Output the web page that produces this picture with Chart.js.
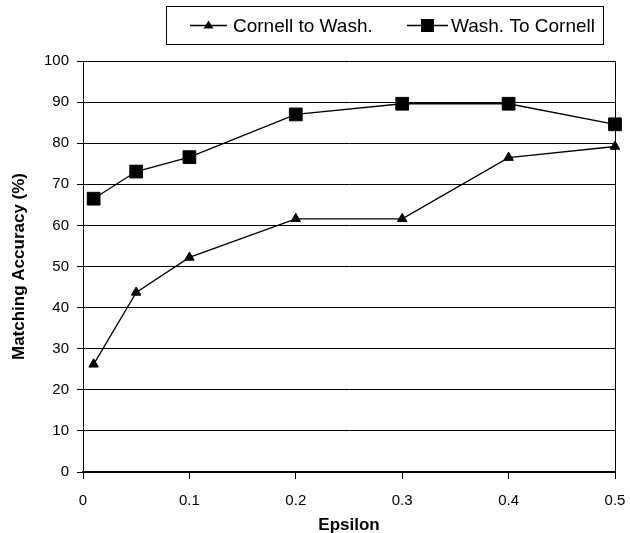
<!DOCTYPE html>
<html>
<head>
<meta charset="utf-8">
<script src="https://cdn.jsdelivr.net/npm/chart.js@4.4.0/dist/chart.umd.min.js"></script>
<style>
  html, body { margin: 0; padding: 0; background: #fff; }
  canvas { display: block; }
</style>
</head>
<body>
<canvas id="accuracy-chart" width="630" height="533"></canvas>
<script>
// values
var epsilon = [0.01, 0.05, 0.1, 0.2, 0.3, 0.4, 0.5];
var cornellToWash = [26.2, 43.7, 52.2, 61.6, 61.6, 76.5, 79.2];
var washToCornell = [66.5, 73.1, 76.6, 87.0, 89.6, 89.6, 84.6];
var xTickLabels = ['0', '0.1', '0.2', '0.3', '0.4', '0.5'];
var seriesNames = ['Cornell to Wash.', 'Wash. To Cornell'];

var FONT = "'Liberation Sans', Arial, sans-serif";

function toPoints(xs, ys) {
    return xs.map(function (x, i) { return { x: x, y: ys[i] }; });
}

// legend box with line + marker samples, like the original
var boxLegend = {
    id: 'boxLegend',
    afterDraw: function (chart) {
        var ctx = chart.ctx;
        ctx.save();
        ctx.fillStyle = '#fff';
        ctx.fillRect(166, 6, 437, 38);
        ctx.strokeStyle = '#000';
        ctx.lineWidth = 1;
        ctx.strokeRect(166.5, 6.5, 437, 38);

        var entries = [
            { x0: 190, x1: 227, style: 'triangle', tx: 233 },
            { x0: 407, x1: 448, style: 'rect', tx: 451 }
        ];
        var y = 25.5;
        entries.forEach(function (e, i) {
            ctx.strokeStyle = '#000';
            ctx.lineWidth = 1.3;
            ctx.beginPath();
            ctx.moveTo(e.x0, y);
            ctx.lineTo(e.x1, y);
            ctx.stroke();
            var cx = (e.x0 + e.x1) / 2;
            ctx.fillStyle = '#000';
            ctx.beginPath();
            if (e.style === 'triangle') {
                ctx.moveTo(cx, y - 5);
                ctx.lineTo(cx + 5, y + 3);
                ctx.lineTo(cx - 5, y + 3);
                ctx.closePath();
            } else {
                ctx.rect(cx - 6.5, y - 6.5, 13, 13);
            }
            ctx.fill();
            ctx.font = '19px ' + FONT;
            ctx.textBaseline = 'middle';
            ctx.textAlign = 'left';
            ctx.fillText(chart.data.datasets[i].label, e.tx, y + 1);
        });

        // right edge of the plot area
        var a = chart.chartArea;
        ctx.strokeStyle = '#000';
        ctx.lineWidth = 1;
        ctx.beginPath();
        ctx.moveTo(Math.round(a.right) + 0.5, a.top);
        ctx.lineTo(Math.round(a.right) + 0.5, a.bottom);
        ctx.stroke();
        ctx.restore();
    }
};

var ctx = document.getElementById('accuracy-chart').getContext('2d');
var chart = new Chart(ctx, {
    type: 'line',
    data: {
        datasets: [{
            label: seriesNames[0],
            data: toPoints(epsilon, cornellToWash),
            borderColor: '#000',
            backgroundColor: '#000',
            borderWidth: 1.3,
            pointStyle: 'triangle',
            pointRadius: 5.5,
            pointBorderWidth: 1,
            pointBackgroundColor: '#000',
            pointBorderColor: '#000',
            tension: 0,
            clip: false
        }, {
            label: seriesNames[1],
            data: toPoints(epsilon, washToCornell),
            borderColor: '#000',
            backgroundColor: '#000',
            borderWidth: 1.3,
            pointStyle: 'rect',
            pointRadius: 9,
            pointBorderWidth: 1,
            pointBackgroundColor: '#000',
            pointBorderColor: '#000',
            tension: 0,
            clip: false
        }]
    },
    options: {
        responsive: false,
        animation: false,
        events: [],
        layout: { padding: { left: 0, right: 15, top: 61, bottom: 0 } },
        plugins: {
            legend: { display: false },
            tooltip: { enabled: false }
        },
        scales: {
            x: {
                type: 'linear',
                min: 0,
                max: 0.5,
                afterFit: function (s) {
                    s.height = 61;
                    s.paddingLeft = 0;
                    s.paddingRight = 0;
                },
                afterBuildTicks: function (s) {
                    s.ticks = xTickLabels.map(function (t) { return { value: parseFloat(t) }; });
                },
                ticks: {
                    color: '#000',
                    font: { family: FONT, size: 15 },
                    padding: 13,
                    maxRotation: 0,
                    callback: function (value, index) { return xTickLabels[index]; }
                },
                grid: {
                    drawOnChartArea: false,
                    drawTicks: true,
                    tickLength: 7,
                    color: '#000',
                    lineWidth: 1
                },
                border: { display: true, color: '#000', width: 2 },
                title: {
                    display: true,
                    text: 'Epsilon',
                    color: '#000',
                    font: { family: FONT, size: 17, weight: 'bold', lineHeight: 1 },
                    padding: { top: 0, bottom: -1 }
                }
            },
            y: {
                min: 0,
                max: 100,
                afterFit: function (s) {
                    s.width = 83;
                    s.paddingTop = 0;
                    s.paddingBottom = 0;
                },
                ticks: {
                    stepSize: 10,
                    color: '#000',
                    font: { family: FONT, size: 15 },
                    padding: 8
                },
                grid: {
                    color: '#000',
                    lineWidth: 1,
                    drawTicks: true,
                    tickLength: 6
                },
                border: { display: true, color: '#000', width: 1 },
                title: {
                    display: true,
                    text: 'Matching Accuracy (%)',
                    color: '#000',
                    font: { family: FONT, size: 17, weight: 'bold', lineHeight: 1.2 },
                    padding: { top: 9, bottom: 0 }
                }
            }
        }
    },
    plugins: [boxLegend]
});
</script>
</body>
</html>
